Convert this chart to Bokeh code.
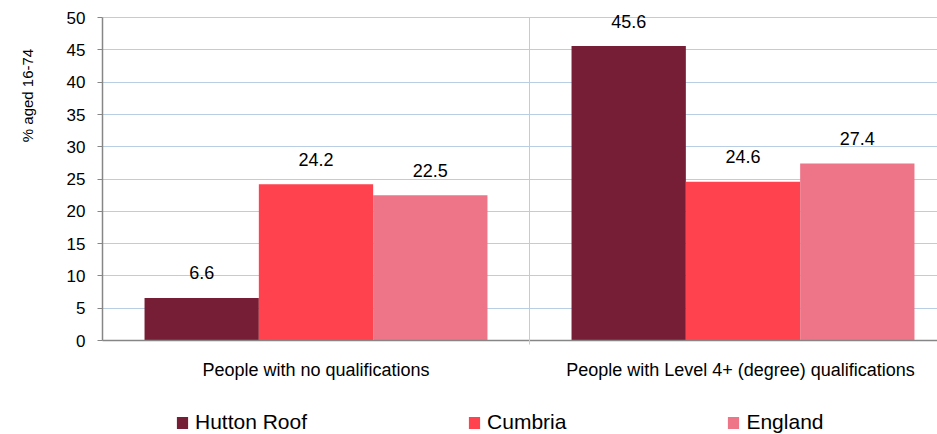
import numpy as np
from bokeh.plotting import figure
from bokeh.layouts import column, row
from bokeh.models import (Range1d, FixedTicker, Legend, LegendItem, Label,
                          ColumnDataSource, CustomJSTickFormatter)
from bokeh.transform import dodge
from bokeh.core.properties import value
from bokeh.embed import file_html
from bokeh.resources import INLINE

# ---- data ----
categories = ["People with no qualifications",
              "People with Level 4+ (degree)  qualifications"]
series_names = ["Hutton Roof", "Cumbria", "England"]
hutton_roof = [6.6, 45.6]
cumbria = [24.2, 24.6]
england = [22.5, 27.4]
y_ticks = [0, 5, 10, 15, 20, 25, 30, 35, 40, 45, 50]
y_title = "% aged 16-74"

# ---- style ----
colors = ["#761E35", "#FF424D", "#EE7488"]
FONT = "Liberation Sans"
AXIS_COL = "#868686"
GRID_COL = "#B9CDE5"
BAR_W = 0.2677
X_END = 1.9555
LEFT_W = 40

cat_x = [i + 0.5 for i in range(len(categories))]
series_vals = [hutton_roof, cumbria, england]
data = dict(x=cat_x)
for name, vals in zip(series_names, series_vals):
    data[name] = vals
    data[name + "_lbl"] = [f"{v:.1f}" for v in vals]
src = ColumnDataSource(data)

# ---- y-title strip (left) ----
t = figure(width=LEFT_W, height=390, output_backend="svg", toolbar_location=None,
           x_axis_type=None, y_axis_type=None, min_border=0,
           x_range=Range1d(0, 1), y_range=Range1d(0, 1))
t.outline_line_color = None
t.grid.visible = False
t.add_layout(Label(x=27, y=390 - 145, x_units="screen", y_units="screen",
                   text=y_title, angle=np.pi / 2, text_align="center",
                   text_baseline="middle", text_font=FONT,
                   text_font_size="15px", text_color="#000000"))

# ---- main chart ----
p = figure(width=937 - LEFT_W, height=390, output_backend="svg",
           toolbar_location=None,
           x_range=Range1d(0, X_END), y_range=Range1d(0, 50.8),
           min_border_left=102 - LEFT_W, min_border_right=0, min_border_top=12,
           min_border_bottom=50)
p.outline_line_color = None
p.background_fill_color = "white"
p.border_fill_color = "white"

# grids
p.ygrid.grid_line_color = GRID_COL
p.ygrid.grid_line_width = 1
p.xgrid.visible = False

# y axis
ya = p.yaxis[0]
ya.ticker = FixedTicker(ticks=y_ticks)
ya.bounds = (0, 50)
ya.axis_line_color = AXIS_COL
ya.axis_line_width = 1.5
ya.major_tick_line_color = AXIS_COL
ya.major_tick_out = 5
ya.major_tick_in = 0
ya.minor_tick_line_color = None
ya.major_label_text_font = FONT
ya.major_label_text_font_size = "17px"
ya.major_label_text_color = "#000000"
ya.major_label_standoff = 12

# x axis (minor tick at the category boundary doubles as the separator line)
xa = p.xaxis[0]
xa.ticker = FixedTicker(ticks=cat_x, minor_ticks=[1.0])
xa.formatter = CustomJSTickFormatter(args=dict(labels=categories),
                                     code="return labels[Math.floor(tick)] || '';")
xa.axis_line_color = AXIS_COL
xa.axis_line_width = 1.5
xa.major_tick_line_color = None
xa.major_tick_out = 0
xa.major_tick_in = 0
xa.minor_tick_line_color = GRID_COL
xa.minor_tick_line_width = 1
xa.minor_tick_out = 4
xa.minor_tick_in = 323
xa.major_label_text_font = FONT
xa.major_label_text_font_size = "18px"
xa.major_label_text_color = "#000000"
xa.major_label_standoff = 15

# bars + value labels
n = len(series_names)
for i, (name, col) in enumerate(zip(series_names, colors)):
    off = (i - (n - 1) / 2) * BAR_W
    p.vbar(x=dodge("x", off, range=p.x_range), top=name, width=BAR_W,
           source=src, fill_color=col, line_color=None)
    p.text(x=dodge("x", off, range=p.x_range), y=name, text=name + "_lbl",
           source=src, text_font=value(FONT), text_font_size="18px",
           text_align="center", text_baseline="alphabetic", y_offset=-25,
           text_color="#000000")

# ---- legend strip below the chart ----
q = figure(width=937, height=44, output_backend="svg", toolbar_location=None,
           x_range=Range1d(0, X_END), y_range=Range1d(100, 101),
           x_axis_type=None, y_axis_type=None, min_border=0)
q.outline_line_color = None
q.grid.visible = False
items = []
for i, (name, col) in enumerate(zip(series_names, colors)):
    off = (i - (n - 1) / 2) * BAR_W
    r = q.vbar(x=dodge("x", off, range=q.x_range), top=name, width=BAR_W,
               source=src, fill_color=col, line_color=None)
    items.append(LegendItem(label=name, renderers=[r]))
legend = Legend(items=items, orientation="horizontal", location=(175, 0),
                spacing=160, glyph_width=14, glyph_height=15, label_standoff=6,
                label_text_font=FONT, label_text_font_size="21px",
                label_text_color="#000000", label_height=15,
                padding=0, margin=0, border_line_color=None,
                background_fill_alpha=0)
q.add_layout(legend)

layout = column(row(t, p, spacing=0), q, spacing=0)
open("out.html", "w").write(file_html(layout, INLINE))
